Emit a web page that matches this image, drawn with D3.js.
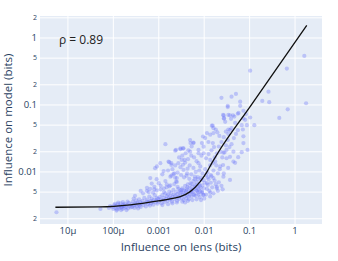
<!DOCTYPE html>
<html>
<head>
<meta charset="utf-8">
<script src="https://cdn.jsdelivr.net/npm/d3@7"></script>
<style>
  body { margin: 0; background: #fff; }
  svg { display: block; font-family: "Open Sans", Arial, sans-serif; }
</style>
</head>
<body>
<svg id="chart"></svg>
<script>
const width = 338, height = 261;
const plot = { left: 40, right: 322, top: 16, bottom: 224 };

// Axis ticks
const xTicks = [1e-5, 1e-4, 1e-3, 1e-2, 0.1, 1];
const xTickLabels = ["10µ", "100µ", "0.001", "0.01", "0.1", "1"];
const yTicks = [2, 1, 0.5, 0.2, 0.1, 0.05, 0.02, 0.01, 0.005, 0.002];
const yTickLabels = ["2", "1", "5", "2", "0.1", "5", "2", "0.01", "5", "2"];
const yTickMinor = [true, false, true, true, false, true, true, false, true, true];

// Fitted curve
const fitLens = [5.3e-6, 5.2e-5, 2.36e-4, 9.75e-4, 2.31e-3, 2.97e-3, 4.92e-3, 8.17e-3, 1.16e-2, 1.5e-2, 2.03e-2, 0.1026, 1.81];
const fitModel = [2.97e-3, 3.0e-3, 3.22e-3, 3.69e-3, 4.09e-3, 4.28e-3, 5.08e-3, 7.16e-3, 1.01e-2, 1.39e-2, 1.95e-2, 0.0944, 1.54];

// Scatter points [lens, model]
const outerPts = [
  [5.6e-6,2.5e-3],[1.6,0.54],[0.66,0.35],[0.103,0.325],[0.26,0.158],[1.75,0.106],[0.69,0.086],[0.45,0.064],
  [0.024,0.128],[0.04,0.133],[0.05,0.146],[0.062,0.112],[0.19,0.115],[0.27,0.11],[0.033,0.093],[0.062,0.097],
  [0.073,0.082],[0.083,0.073],[0.103,0.065],[0.027,0.07],[0.027,0.063],[0.037,0.07],[0.043,0.07],[0.055,0.074],
  [0.073,0.063],[0.08,0.06],[0.127,0.05],[0.067,0.05],[0.0147,0.049],[0.016,0.045],[0.04,0.045],[0.037,0.042],
  [0.029,0.056],[0.057,0.076],[0.087,0.05],[0.034,0.043],[0.048,0.054],[0.071,0.043],[0.0115,0.038],[0.016,0.038],
  [0.0105,0.032],[0.0136,0.036],[0.0124,0.028],[0.0155,0.027],[0.005,0.027],[0.0058,0.0275],[0.0053,0.024],
  [0.0089,0.027],[0.0097,0.0238],[0.073,0.034],[0.073,0.027],[0.003,0.0225],[0.0034,0.0225],[0.0023,0.0208],
  [0.0049,0.0201],[0.0075,0.0213],[0.0097,0.019],[0.0265,0.0194],[0.044,0.0201],[0.067,0.0197],[0.09,0.0213],
  [0.0014,0.026],[0.0024,0.0213],[0.0017,0.014],[0.0019,0.0127],[0.00091,0.0121],[0.00083,0.0114],[0.00128,0.0103],
  [0.00065,0.0081],[0.0021,0.0093],[0.0023,0.0082],[0.0018,0.0085],[0.0014,0.0073],[0.0025,0.0071],[0.001,0.0068],
  [0.033,0.097],[0.026,0.071],[0.0275,0.063],[0.034,0.071],[0.039,0.062],[0.046,0.067],[0.0154,0.049],[0.018,0.043],
  [0.0195,0.039],[0.0216,0.0345],[0.0094,0.0338],[0.0049,0.03],[0.0058,0.027],[0.003,0.0218],[0.0035,0.0225],
  [0.00164,0.0143],[0.0019,0.0135],[0.0032,0.0151],[0.0037,0.0151],[0.0075,0.019],[0.0136,0.0151],[0.0175,0.0143],
  [0.031,0.0213],[0.037,0.0168],[0.044,0.0143],[0.00108,0.0135],[0.0025,0.0081],[0.0035,0.0107],[0.0042,0.0095],
  [0.0075,0.0135],[0.0082,0.0121],[0.0225,0.0121],[0.0265,0.0085],[0.016,0.0081],[0.0115,0.0068],[0.0082,0.0051],
  [0.0097,0.0045],[0.019,0.0057],[0.0255,0.0055],[0.037,0.0076],[0.048,0.0137],[0.056,0.0166],[0.031,0.016],
  [0.026,0.0127],[0.0337,0.0115],[0.0136,0.0049],[0.019,0.006]
];
const midPts = [
  [0.006,0.0165],[0.0068,0.0145],[0.0087,0.0175],[0.011,0.016],[0.0125,0.0185],[0.0145,0.021],[0.0165,0.0235],
  [0.0058,0.0115],[0.0065,0.01],[0.0078,0.0105],[0.0092,0.0095],[0.0105,0.011],[0.0118,0.0098],[0.0048,0.0125],
  [0.0043,0.0112],[0.0052,0.0092],[0.0062,0.0085],[0.0072,0.0078],[0.0085,0.0082],[0.0098,0.0076],[0.012,0.0083],
  [0.014,0.009],[0.016,0.0105],[0.0185,0.0125],[0.02,0.0095],[0.022,0.011],[0.0135,0.0125],[0.0155,0.0135],
  [0.017,0.0165],[0.019,0.019],[0.021,0.024],[0.024,0.028],[0.023,0.02],[0.025,0.0165],[0.028,0.0195],[0.03,0.025],
  [0.033,0.03],[0.036,0.0235],[0.04,0.026],[0.045,0.032],[0.05,0.037],[0.055,0.042],[0.034,0.037],[0.027,0.033],
  [0.03,0.04],
  [0.0016,0.0105],[0.002,0.011],[0.0023,0.0125],[0.0027,0.0135],[0.003,0.0118],[0.0034,0.0128],[0.0038,0.0138],
  [0.0044,0.0155],[0.0028,0.0165],[0.0033,0.0175],[0.0039,0.019],[0.0045,0.021],[0.0052,0.0175],[0.0026,0.0098],
  [0.0031,0.009],[0.0036,0.0083],[0.0041,0.0088],[0.0047,0.0079],[0.0022,0.0095],[0.0019,0.0088],[0.0012,0.0092],
  [0.0009,0.0078],[0.0011,0.0062],[0.0013,0.0057],[0.0015,0.0065],[0.0017,0.0061],[0.0007,0.0067],[0.00055,0.0058],
  [0.0004,0.0052],[0.0006,0.005],[0.0008,0.0055]
];
const bandPts = [
  [5.2e-5,2.8e-3],[8e-5,2.9e-3],[8.5e-5,3.1e-3],
  [9.5e-5,3.0e-3],[1.0e-4,2.8e-3],[1.05e-4,3.2e-3],[1.1e-4,2.9e-3],[1.15e-4,3.1e-3],[1.2e-4,2.75e-3],[1.25e-4,3.3e-3],
  [1.3e-4,3.0e-3],[1.35e-4,2.85e-3],[1.4e-4,3.15e-3],[1.45e-4,3.4e-3],[1.5e-4,2.95e-3],[1.55e-4,3.05e-3],[1.6e-4,2.8e-3],
  [1.65e-4,3.25e-3],[1.7e-4,3.1e-3],[1.75e-4,2.9e-3],[1.8e-4,3.35e-3],[1.9e-4,3.0e-3],[2.0e-4,3.2e-3],[2.1e-4,2.85e-3],
  [2.2e-4,3.45e-3],[2.3e-4,3.1e-3],[2.4e-4,2.95e-3],[1.08e-4,3.35e-3],[1.28e-4,3.5e-3],[1.62e-4,3.55e-3],[2.05e-4,3.6e-3],
  [1.18e-4,2.65e-3],[1.48e-4,2.7e-3],[1.95e-4,2.7e-3],
  [2.5e-4,3.3e-3],[2.6e-4,3.0e-3],[2.7e-4,3.6e-3],[2.8e-4,3.15e-3],[2.9e-4,2.9e-3],[3.0e-4,3.4e-3],[3.1e-4,3.25e-3],
  [3.2e-4,3.75e-3],[3.3e-4,3.05e-3],[3.4e-4,3.5e-3],[3.5e-4,2.85e-3],[3.6e-4,3.3e-3],[3.7e-4,3.9e-3],[3.8e-4,3.15e-3],
  [3.9e-4,3.55e-3],[4.0e-4,3.0e-3],[4.2e-4,3.4e-3],[4.4e-4,3.7e-3],[4.6e-4,3.2e-3],[4.8e-4,4.1e-3],[5.0e-4,3.45e-3],
  [5.2e-4,3.05e-3],[5.4e-4,3.6e-3],[5.6e-4,3.85e-3],[5.8e-4,3.3e-3],[6.0e-4,3.55e-3],[6.2e-4,4.3e-3],[6.4e-4,3.15e-3],
  [6.6e-4,3.7e-3],[6.8e-4,3.4e-3],[7.0e-4,4.0e-3],[7.3e-4,3.6e-3],[7.6e-4,3.25e-3],[7.9e-4,3.85e-3],[8.2e-4,4.5e-3],
  [8.5e-4,3.5e-3],[8.8e-4,3.75e-3],[9.1e-4,4.1e-3],[9.4e-4,3.35e-3],[9.7e-4,3.95e-3],
  [3.0e-4,4.4e-3],[4.5e-4,4.8e-3],[5.5e-4,5.2e-3],[7.5e-4,4.9e-3],[6.5e-4,5.6e-3],[2.8e-4,4.0e-3],[8.0e-4,6.0e-3],[9.0e-4,5.3e-3],
  [1.0e-3,3.6e-3],[1.05e-3,4.2e-3],[1.1e-3,3.9e-3],[1.15e-3,3.4e-3],[1.2e-3,4.5e-3],[1.25e-3,3.75e-3],[1.3e-3,4.1e-3],
  [1.35e-3,3.55e-3],[1.4e-3,4.8e-3],[1.45e-3,3.95e-3],[1.5e-3,4.35e-3],[1.55e-3,3.7e-3],[1.6e-3,4.6e-3],[1.65e-3,4.05e-3],
  [1.7e-3,5.1e-3],[1.75e-3,3.85e-3],[1.8e-3,4.4e-3],[1.85e-3,4.0e-3],[1.9e-3,4.9e-3],[1.95e-3,3.6e-3],[2.0e-3,4.25e-3],
  [2.1e-3,5.4e-3],[2.15e-3,4.6e-3],[2.2e-3,3.9e-3],[2.3e-3,4.4e-3],[2.4e-3,5.0e-3],[2.5e-3,4.15e-3],[2.55e-3,3.7e-3],
  [2.6e-3,4.7e-3],[2.7e-3,5.6e-3],[2.75e-3,4.3e-3],[2.8e-3,3.95e-3],[2.9e-3,4.9e-3],[2.95e-3,5.3e-3],
  [1.1e-3,5.5e-3],[1.5e-3,5.9e-3],[1.8e-3,6.3e-3],[2.2e-3,6.6e-3],[2.6e-3,6.0e-3],[1.3e-3,5.0e-3],[2.4e-3,7.2e-3],
  [1.2e-3,3.2e-3],[1.6e-3,3.3e-3],[2.0e-3,3.4e-3],[2.5e-3,3.5e-3],
  [3.0e-3,4.4e-3],[3.1e-3,5.0e-3],[3.2e-3,4.1e-3],[3.3e-3,5.7e-3],[3.4e-3,4.6e-3],[3.5e-3,3.8e-3],[3.6e-3,5.3e-3],
  [3.7e-3,4.3e-3],[3.8e-3,6.2e-3],[3.9e-3,4.8e-3],[4.0e-3,4.0e-3],[4.1e-3,5.5e-3],[4.2e-3,4.5e-3],[4.35e-3,6.5e-3],
  [4.5e-3,5.1e-3],[4.6e-3,3.9e-3],[4.75e-3,5.8e-3],[4.9e-3,4.6e-3],[5.0e-3,6.8e-3],[5.15e-3,5.2e-3],[5.3e-3,4.3e-3],
  [5.45e-3,6.0e-3],[5.6e-3,5.0e-3],[5.8e-3,7.3e-3],[5.95e-3,4.7e-3],[6.1e-3,5.6e-3],[6.3e-3,6.4e-3],[6.5e-3,4.4e-3],
  [6.7e-3,5.3e-3],[6.9e-3,7.0e-3],[7.1e-3,6.0e-3],[7.3e-3,4.9e-3],[7.5e-3,5.5e-3],[7.8e-3,6.6e-3],[8.0e-3,4.2e-3],
  [8.3e-3,5.8e-3],[8.6e-3,7.6e-3],[8.9e-3,5.1e-3],[9.2e-3,6.3e-3],[9.5e-3,4.6e-3],[9.8e-3,5.7e-3],[1.02e-2,6.9e-3],
  [3.3e-3,3.6e-3],[4.4e-3,3.7e-3],[5.5e-3,3.8e-3],[6.8e-3,3.9e-3],[8.5e-3,3.8e-3],[1.0e-2,4.0e-3],[3.8e-3,3.5e-3],
  [3.5e-3,4.9e-3],[4.0e-3,5.2e-3],[4.5e-3,4.3e-3],[5.0e-3,4.9e-3],[5.5e-3,5.4e-3],[6.0e-3,4.5e-3],[6.5e-3,6.1e-3],
  [7.0e-3,5.2e-3],[7.5e-3,4.6e-3],[8.0e-3,6.2e-3],[9.0e-3,4.9e-3],[3.2e-3,5.4e-3],[4.3e-3,5.9e-3],[5.3e-3,6.6e-3],
  [6.2e-3,7.8e-3],[7.2e-3,8.4e-3],
  [1.1e-2,4.6e-3],[1.15e-2,5.6e-3],[1.2e-2,6.4e-3],[1.3e-2,5.2e-3],[1.4e-2,6.9e-3],[1.5e-2,5.9e-3],[1.6e-2,4.8e-3],
  [1.7e-2,7.4e-3],[1.25e-2,7.8e-3],[1.45e-2,8.6e-3],[1.1e-2,8.9e-3],[1.8e-2,6.5e-3],[2.1e-2,7.0e-3],[2.4e-2,6.2e-3],
  [2.7e-2,9.5e-3],[1.35e-2,4.3e-3],[2.0e-2,5.2e-3]
];
const scatterPts = outerPts.concat(midPts, bandPts);

const svg = d3.select("#chart")
    .attr("width", width)
    .attr("height", height);

const x = d3.scaleLog().domain([2.43e-6, 3.92]).range([plot.left, plot.right]);
const y = d3.scaleLog().domain([1.67e-3, 2.13]).range([plot.bottom, plot.top]);

// background
svg.append("rect")
    .attr("x", plot.left).attr("y", plot.top)
    .attr("width", plot.right - plot.left)
    .attr("height", plot.bottom - plot.top)
    .attr("fill", "#e5ecf6");

// gridlines
svg.append("g").selectAll("line")
    .data(xTicks).enter().append("line")
    .attr("x1", d => x(d)).attr("x2", d => x(d))
    .attr("y1", plot.top).attr("y2", plot.bottom)
    .attr("stroke", "#fff").attr("stroke-width", 1);

svg.append("g").selectAll("line")
    .data(yTicks).enter().append("line")
    .attr("x1", plot.left).attr("x2", plot.right)
    .attr("y1", d => y(d)).attr("y2", d => y(d))
    .attr("stroke", "#fff").attr("stroke-width", 1);

// scatter
svg.append("g").selectAll("circle")
    .data(scatterPts).enter().append("circle")
    .attr("cx", d => x(d[0]))
    .attr("cy", d => y(d[1]))
    .attr("r", 2.1)
    .attr("fill", "#636efa")
    .attr("fill-opacity", 0.33);

// fit line
const line = d3.line()
    .x(d => x(d[0]))
    .y(d => y(d[1]))
    .curve(d3.curveMonotoneX);

svg.append("path")
    .datum(fitLens.map((v, i) => [v, fitModel[i]]))
    .attr("d", line)
    .attr("fill", "none")
    .attr("stroke", "#111")
    .attr("stroke-width", 1.3);

// tick labels
svg.append("g").selectAll("text")
    .data(xTicks).enter().append("text")
    .attr("x", d => x(d))
    .attr("y", 234)
    .attr("text-anchor", "middle")
    .attr("font-size", 9.5)
    .attr("fill", "#2a3f5f")
    .text((d, i) => xTickLabels[i]);

svg.append("g").selectAll("text")
    .data(yTicks).enter().append("text")
    .attr("x", 37)
    .attr("y", d => y(d))
    .attr("dy", "0.33em")
    .attr("text-anchor", "end")
    .attr("font-size", (d, i) => yTickMinor[i] ? 7 : 9.5)
    .attr("fill", "#2a3f5f")
    .text((d, i) => yTickLabels[i]);

// axis titles
svg.append("text")
    .attr("x", (plot.left + plot.right) / 2)
    .attr("y", 251)
    .attr("text-anchor", "middle")
    .attr("font-size", 11.5)
    .attr("fill", "#2a3f5f")
    .text("Influence on lens (bits)");

svg.append("text")
    .attr("transform", `translate(12,${(plot.top + plot.bottom) / 2}) rotate(-90)`)
    .attr("text-anchor", "middle")
    .attr("font-size", 11.5)
    .attr("fill", "#2a3f5f")
    .text("Influence on model (bits)");

// annotation
svg.append("text")
    .attr("x", 59)
    .attr("y", 44)
    .attr("font-size", 12)
    .attr("fill", "#222")
    .text("ρ = 0.89");
</script>
</body>
</html>
